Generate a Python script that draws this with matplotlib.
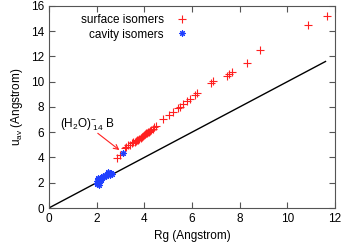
import matplotlib
matplotlib.use("Agg")
import matplotlib.pyplot as plt

plt.rcParams['font.family'] = ['Liberation Sans', 'DejaVu Sans']
plt.rcParams['font.size'] = 8.5
plt.rcParams['mathtext.fontset'] = 'custom'
plt.rcParams['mathtext.rm'] = 'Liberation Sans'
plt.rcParams['mathtext.it'] = 'Liberation Sans'

# surface isomers (red +)
surf_rg = [2.84, 2.97, 3.19, 3.25, 3.33, 3.40, 3.47, 3.54, 3.60, 3.65, 3.70, 3.75,
           3.80, 3.85, 3.90, 3.95, 4.00, 4.03, 4.08, 4.12, 4.15, 4.20, 4.25, 4.30,
           4.35, 4.40, 4.48, 4.80, 5.05, 5.20, 5.40, 5.50, 5.64, 5.80, 5.92, 6.12,
           6.22, 6.78, 6.90, 7.46, 7.57, 7.67, 8.31, 8.87, 10.88, 11.65]
surf_uav = [3.96, 4.18, 4.73, 4.80, 4.95, 5.02, 5.13, 5.20, 5.24, 5.30, 5.36, 5.42,
            5.47, 5.55, 5.60, 5.70, 5.76, 5.85, 5.90, 5.95, 6.00, 6.05, 6.10, 6.20,
            6.28, 6.38, 6.52, 7.02, 7.38, 7.62, 7.88, 7.98, 8.25, 8.50, 8.65, 8.95,
            9.12, 9.90, 10.02, 10.45, 10.61, 10.74, 11.48, 12.50, 14.50, 15.18]

# cavity isomers (blue *)
cav_rg = [2.00, 2.02, 2.05, 2.05, 2.08, 2.10, 2.10, 2.12, 2.15, 2.15, 2.18, 2.20,
          2.05, 2.08, 2.25, 2.30, 2.35, 2.40, 2.45, 2.50, 2.55, 2.60, 2.50, 2.65,
          2.00, 2.12, 3.12]
cav_uav = [1.90, 2.00, 1.95, 2.10, 2.05, 2.20, 1.85, 2.30, 2.15, 2.40, 2.25, 2.35,
           2.30, 2.40, 2.50, 2.45, 2.60, 2.55, 2.70, 2.75, 2.65, 2.80, 2.85, 2.70,
           2.15, 1.95, 4.37]

line_x = [0, 11.6]
line_y = [0, 11.6]

fig = plt.figure(figsize=(3.44, 2.45), dpi=100)
ax = fig.add_axes([0.142, 0.151, 0.832, 0.825])

ax.plot(line_x, line_y, color='black', lw=1)
ax.plot(surf_rg, surf_uav, ls='none', marker='+', color='#ff2020',
        ms=5.5, mew=0.8, label='surface isomers')
ax.plot(cav_rg, cav_uav, ls='none', marker=(8, 2, 0), color='#2040ff',
        ms=4.5, mew=0.8, label='cavity isomers')

ax.annotate('', xy=(3.05, 4.45), xytext=(1.96, 6.05),
            arrowprops=dict(arrowstyle='->', color='#ff2020', lw=0.8))
ax.text(0.45, 6.4, r'(H$_2$O)$^{-}_{\ 14}$ B', fontsize=8.5)

ax.set_xlim(0, 12)
ax.set_ylim(0, 16)
ax.set_xticks(range(0, 13, 2))
ax.set_yticks(range(0, 17, 2))
ax.tick_params(direction='in', top=True, right=True, length=4, color='#555555')
for s in ax.spines.values():
    s.set_color('#555555')
ax.set_xlabel('Rg (Angstrom)')
ax.set_ylabel(r'u$_{\rm av}$ (Angstrom)')

ax.legend(loc='upper right', bbox_to_anchor=(0.525, 1.0), frameon=False,
          markerfirst=False, handlelength=1.5, handletextpad=0.8,
          labelspacing=0.2, borderaxespad=0.3)

fig.savefig('out.png', dpi=100)
